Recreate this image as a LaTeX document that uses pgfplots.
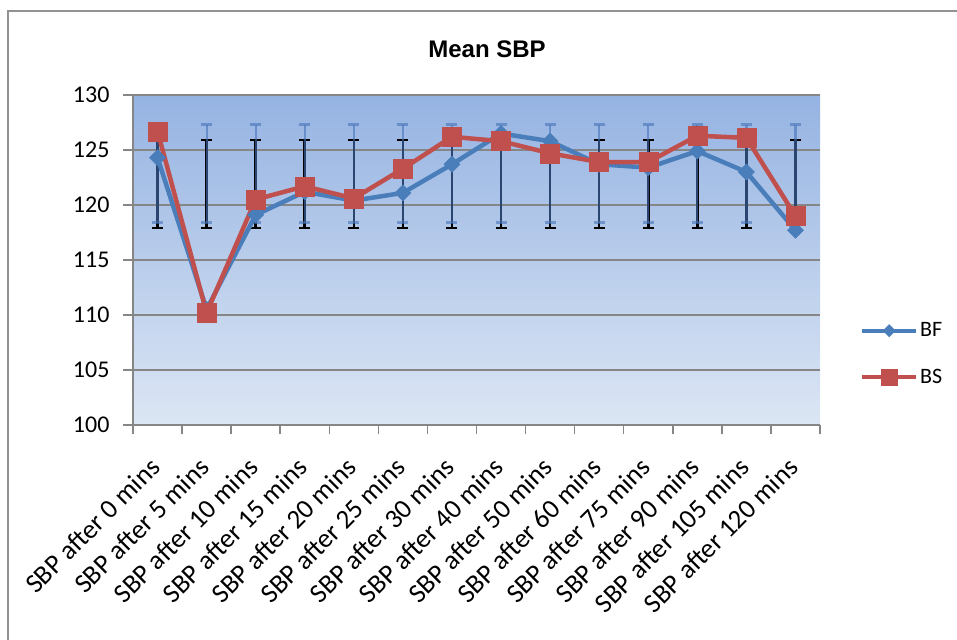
\documentclass[border=0pt]{standalone}
\usepackage{pgfplots}
\pgfplotsset{compat=1.18}
\usepackage{fontspec}
\setmainfont{Carlito}
\newfontfamily\titlefont{Liberation Sans}
\definecolor{bfblue}{RGB}{74,126,187}
\definecolor{bsred}{RGB}{192,80,77}
\definecolor{gridgray}{RGB}{134,134,134}
\definecolor{errblue}{RGB}{70,115,185}
\begin{document}
\begin{tikzpicture}
\path[use as bounding box] (0,0) rectangle (957pt,639pt);
\draw[gridgray!90, line width=2.5pt] (8pt,-2pt) -- (8pt,628pt) -- (960pt,628pt);
\node[font=\titlefont\bfseries\fontsize{24}{28}\selectfont, anchor=base] at (487pt,581pt) {Mean SBP};
\begin{axis}[
  at={(133pt,214pt)}, anchor=south west,
  width=687pt, height=330pt, scale only axis,
  xmin=-0.5, xmax=13.5, ymin=100, ymax=130,
  ytick={100,105,...,130},
  xtick={0,...,13},
  xticklabels={SBP after 0 mins,SBP after 5 mins,SBP after 10 mins,SBP after 15 mins,SBP after 20 mins,SBP after 25 mins,SBP after 30 mins,SBP after 40 mins,SBP after 50 mins,SBP after 60 mins,SBP after 75 mins,SBP after 90 mins,SBP after 105 mins,SBP after 120 mins},
  minor xtick={-0.5,0.5,...,13.5},
  major x tick style={draw=none},
  minor x tick style={draw=gridgray, line width=1.5pt},
  major y tick style={draw=gridgray, line width=1.5pt},
  major tick length=10pt, minor tick length=9pt,
  tick align=outside,
  axis x line*=bottom, axis y line*=left,
  axis line style={draw=gridgray, line width=1.5pt},
  ymajorgrids, grid style={draw=gridgray, line width=1.5pt},
  axis background/.style={top color={rgb,255:red,149;green,179;blue,226}, bottom color={rgb,255:red,220;green,230;blue,244}},
  /pgf/number format/assume math mode=true,
  yticklabel style={font=\fontsize{24}{28}\selectfont, xshift=-10pt},
  xticklabel style={font=\fontsize{27}{32}\selectfont, xshift=-9pt, yshift=-21pt, rotate=45, anchor=north east, inner sep=0pt},
  legend style={draw=none, fill=none, at={(axis description cs:1,0.215)}, anchor=west, xshift=40pt, font=\fontsize{22}{26}\selectfont, row sep=27pt, inner sep=0pt, nodes={inner sep=2pt}},
  legend cell align=left,
  legend image code/.code={\draw[mark repeat=2,mark phase=2,#1] plot coordinates {(0pt,0pt) (27pt,0pt) (54pt,0pt)};},
]
% black error bars
\addplot[draw=none, mark=none, forget plot,
  error bars/.cd, y dir=both, y explicit,
  error bar style={draw=black, line width=2.6pt},
  error mark options={draw=black, line width=2.6pt, mark size=5.5pt, rotate=90}]
  coordinates {
  (0,121.9) +- (0,4.0) (1,121.9) +- (0,4.0) (2,121.9) +- (0,4.0) (3,121.9) +- (0,4.0)
  (4,121.9) +- (0,4.0) (5,121.9) +- (0,4.0) (6,121.9) +- (0,4.0) (7,121.9) +- (0,4.0)
  (8,121.9) +- (0,4.0) (9,121.9) +- (0,4.0) (10,121.9) +- (0,4.0) (11,121.9) +- (0,4.0)
  (12,121.9) +- (0,4.0) (13,121.9) +- (0,4.0)};
% blue error bars
\addplot[draw=none, mark=none, forget plot,
  error bars/.cd, y dir=both, y explicit,
  error bar style={draw=errblue, line width=2.2pt, opacity=0.6},
  error mark options={draw=errblue, line width=2.6pt, mark size=5.5pt, rotate=90, opacity=0.6}]
  coordinates {
  (0,122.85) +- (0,4.45) (1,122.85) +- (0,4.45) (2,122.85) +- (0,4.45) (3,122.85) +- (0,4.45)
  (4,122.85) +- (0,4.45) (5,122.85) +- (0,4.45) (6,122.85) +- (0,4.45) (7,122.85) +- (0,4.45)
  (8,122.85) +- (0,4.45) (9,122.85) +- (0,4.45) (10,122.85) +- (0,4.45) (11,122.85) +- (0,4.45)
  (12,122.85) +- (0,4.45) (13,122.85) +- (0,4.45)};
% BF
\addplot[forget plot, color=bfblue, line width=4.5pt, mark=square*, mark size=5.7pt, mark options={rotate=45, solid, line width=0.5pt}]
  coordinates {(0,124.3) (1,110.5) (2,119.1) (3,121.2) (4,120.4) (5,121.1) (6,123.7) (7,126.5) (8,125.8) (9,123.7) (10,123.4) (11,124.9) (12,123.0) (13,117.7)};
% BS
\addplot[forget plot, color=bsred, line width=4.5pt, mark=square*, mark size=9.5pt, mark options={solid, line width=0.5pt}]
  coordinates {(0,126.7) (1,110.2) (2,120.5) (3,121.7) (4,120.6) (5,123.3) (6,126.2) (7,125.8) (8,124.7) (9,123.9) (10,123.9) (11,126.3) (12,126.1) (13,119.0)};
\addlegendimage{color=bfblue, line width=4pt, mark=square*, mark size=4.3pt, mark options={rotate=45, solid, line width=0.5pt}}
\addlegendentry{BF}
\addlegendimage{color=bsred, line width=4pt, mark=square*, mark size=8pt, mark options={solid, line width=0.5pt}}
\addlegendentry{BS}
\end{axis}
\end{tikzpicture}
\end{document}
